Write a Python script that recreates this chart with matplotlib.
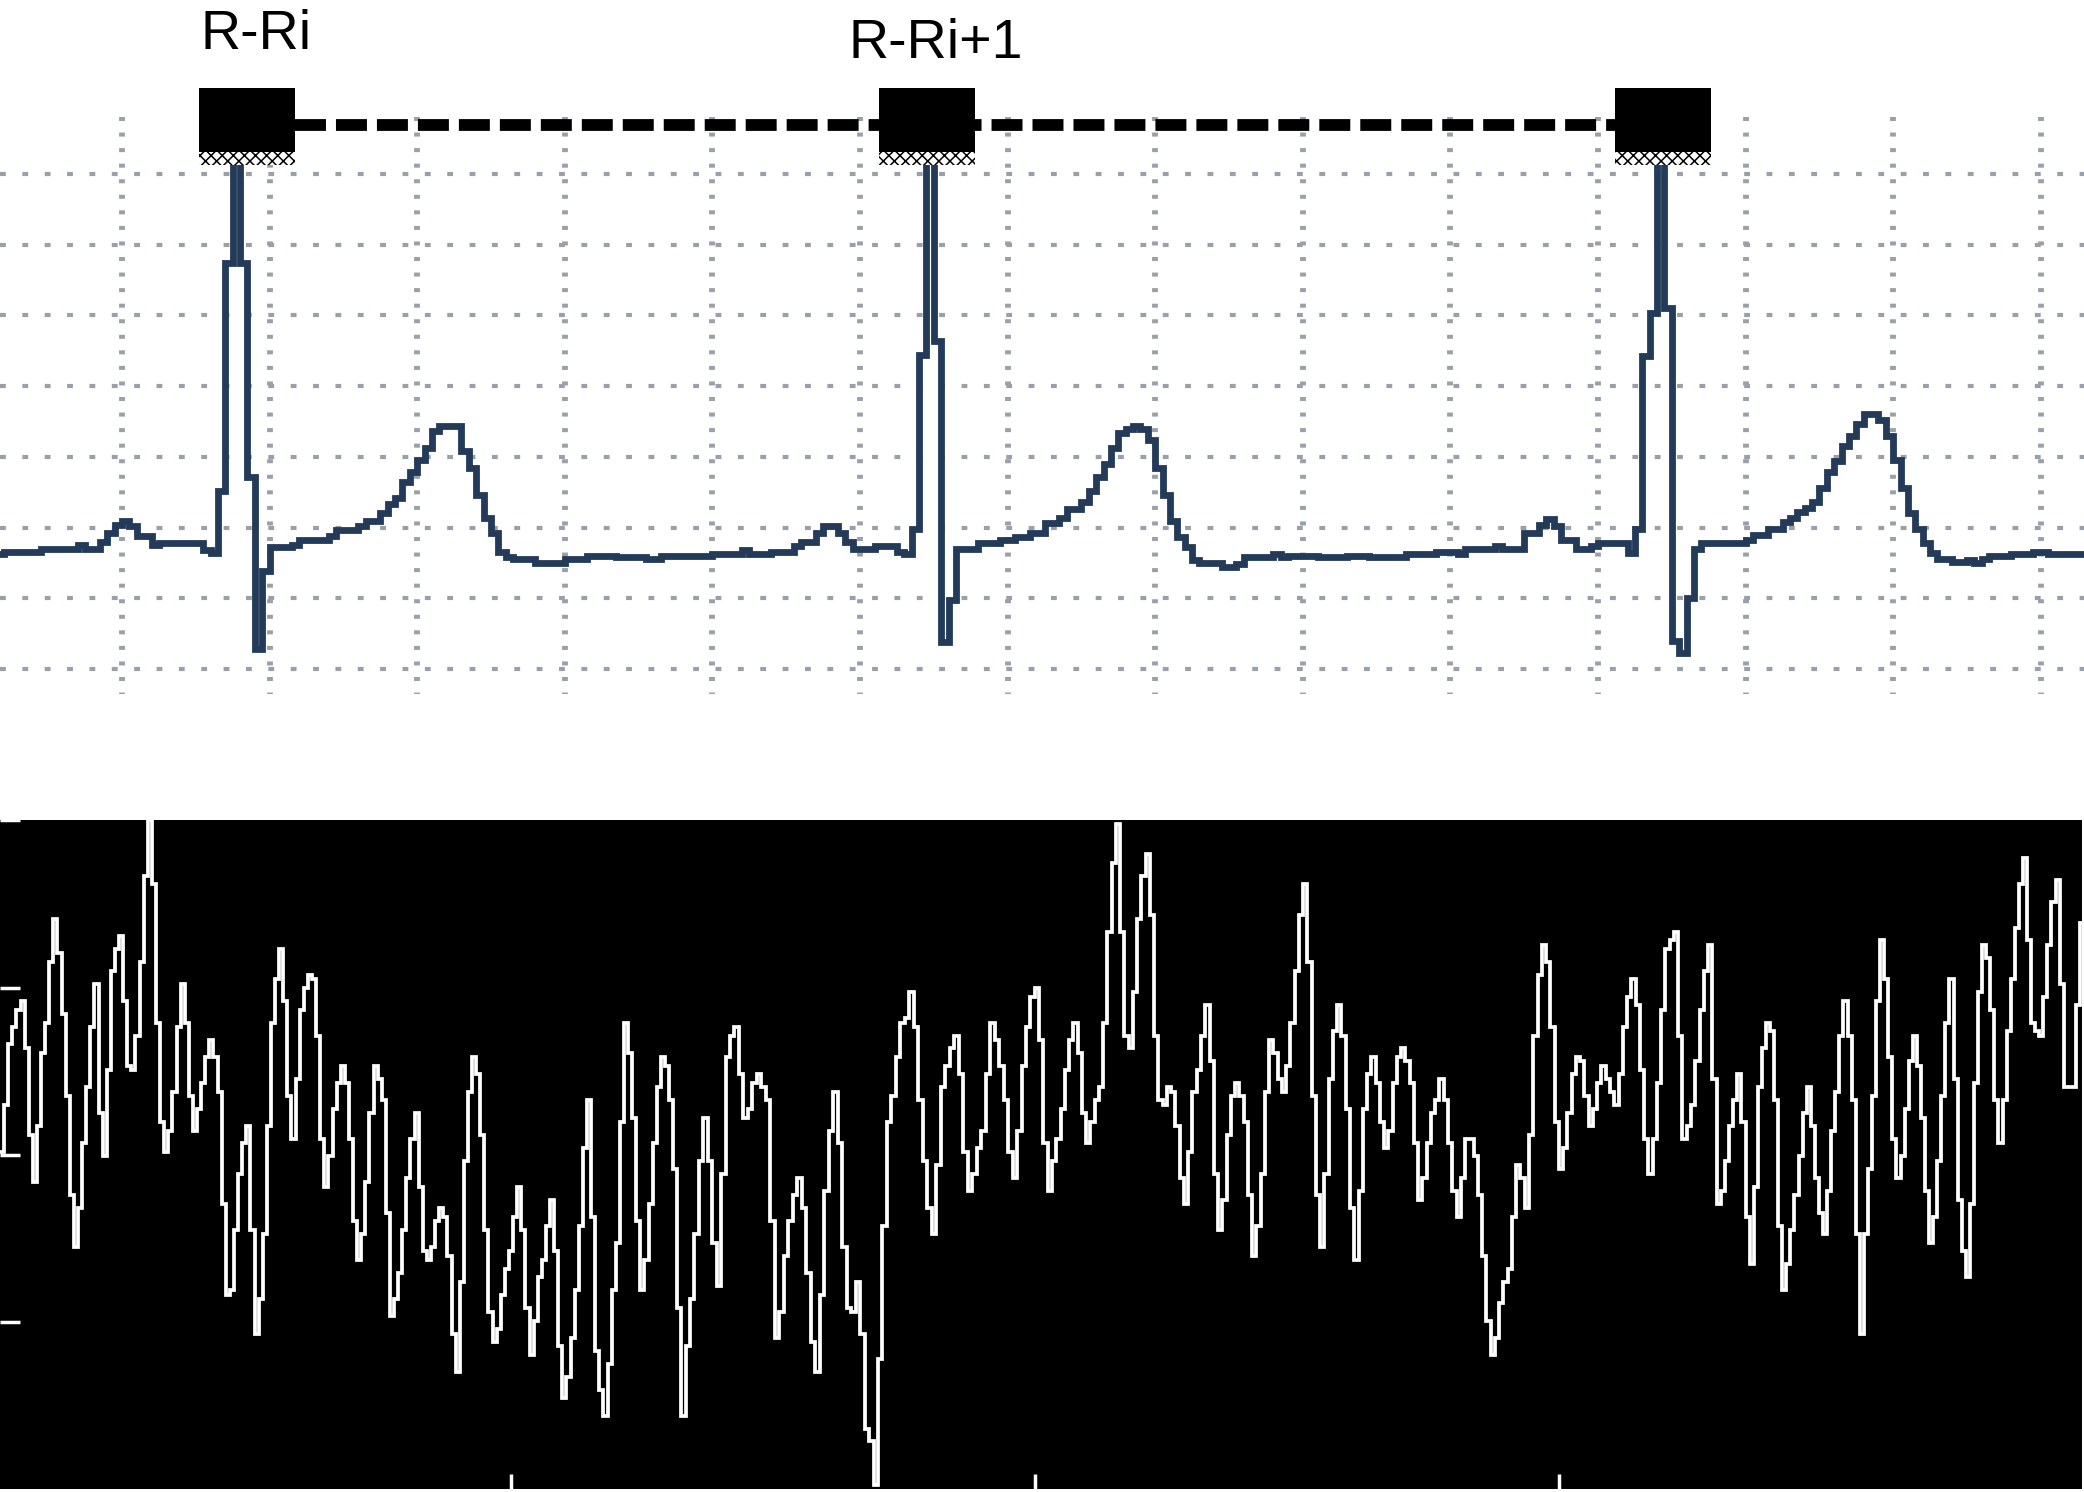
import numpy as np
import matplotlib
matplotlib.use("Agg")
import matplotlib.pyplot as plt
from matplotlib.patches import Rectangle

plt.rcParams['font.family'] = ['Liberation Sans', 'DejaVu Sans']
plt.rcParams['lines.scale_dashes'] = False
plt.rcParams['hatch.linewidth'] = 1.1

# ---------------- ECG (mV), sampled every 10 ms ----------------
ecg_t0 = 0.030
ecg_dt = 0.01
ecg_pre = [0.81,
           0.83, 0.83, 0.83, 0.83, 0.83,
           0.85, 0.85, 0.85, 0.85, 0.85,
           0.88, 0.85, 0.85,
           0.90, 0.96, 1.02, 1.05, 1.01, 0.94, 0.94, 0.88,
           0.89, 0.89, 0.89, 0.89, 0.89, 0.89,
           0.84, 0.82, 1.26, 2.87, 3.75]
ecg_beat1 = [2.87, 1.36, 0.14, 0.69,
             0.86, 0.86, 0.86, 0.88, 0.91, 0.91, 0.91, 0.91, 0.94,
             0.98, 0.98, 0.98, 1.01, 1.05, 1.05, 1.10, 1.17, 1.21, 1.32,
             1.39, 1.48, 1.56, 1.68, 1.72, 1.72, 1.72, 1.54, 1.42, 1.23,
             1.07, 0.96, 0.83, 0.79, 0.78, 0.78, 0.78, 0.75, 0.75, 0.75,
             0.75, 0.78, 0.78, 0.78, 0.80, 0.80, 0.80, 0.80, 0.79, 0.79,
             0.79, 0.79, 0.78, 0.78, 0.80, 0.80, 0.80, 0.80, 0.80, 0.80,
             0.80,
             0.81, 0.81, 0.81, 0.81, 0.84, 0.81, 0.81, 0.81, 0.83, 0.83,
             0.83, 0.87, 0.90, 0.90, 0.96, 1.01, 1.01, 0.96, 0.90, 0.85,
             0.85, 0.85, 0.87, 0.87, 0.87, 0.83, 0.81, 0.99, 2.22, 3.75]
ecg_beat2 = [2.32, 0.19, 0.49,
             0.85, 0.85, 0.85, 0.89, 0.89, 0.89, 0.91, 0.91, 0.93, 0.93,
             0.96, 0.96, 1.03, 1.03, 1.07, 1.13, 1.13, 1.18, 1.26, 1.36,
             1.45, 1.56, 1.67, 1.70, 1.72, 1.70, 1.62, 1.42, 1.23, 1.05,
             0.93, 0.86, 0.77, 0.75, 0.75, 0.75, 0.72, 0.72, 0.74, 0.79,
             0.79, 0.79, 0.79, 0.81, 0.79, 0.80, 0.80, 0.80, 0.80, 0.79,
             0.79, 0.79, 0.79, 0.80, 0.80, 0.80, 0.79, 0.79, 0.79,
             0.79, 0.79, 0.81, 0.81, 0.81, 0.81, 0.83, 0.83, 0.83, 0.81,
             0.85, 0.85, 0.85, 0.85, 0.87, 0.85, 0.85, 0.85, 0.96, 0.96,
             1.02, 1.06, 1.01, 0.91, 0.91, 0.85, 0.85, 0.87, 0.89, 0.89,
             0.89, 0.89, 0.82, 0.99, 2.21, 2.52, 3.75]
ecg_beat3 = [2.55, 0.20, 0.11, 0.50,
             0.85, 0.89, 0.89, 0.89, 0.89, 0.89, 0.89, 0.91, 0.95, 0.95,
             0.99, 0.99, 1.04, 1.07, 1.11, 1.14, 1.18, 1.28, 1.39, 1.47,
             1.58, 1.65, 1.73, 1.80, 1.80, 1.76, 1.65, 1.48, 1.28, 1.10,
             0.99, 0.89, 0.82, 0.78, 0.78, 0.76, 0.76, 0.77, 0.75, 0.78,
             0.80, 0.80, 0.80, 0.81, 0.81, 0.81, 0.83, 0.83, 0.81, 0.81,
             0.81, 0.81, 0.81]

# -------------- lower trace (arbitrary units), six stretches --------------
sig_bounds = [0.025, 0.683, 1.341, 2.0, 2.658, 3.317, 4.002]
sig_seg1 = [78, 89, 103, 107, 111, 113, 102, 82, 71, 84, 101, 108, 122, 132, 124, 110,
            91, 68, 56, 65, 80, 93, 107, 117, 87, 77, 97, 120, 125, 128, 113, 98, 97,
            105, 122, 142, 155, 140, 108, 85, 78, 83, 92, 107, 117, 108, 91, 83, 88, 94,
            100, 104, 100, 92, 66, 45, 46, 60, 73, 80, 84, 60, 36, 44, 59, 84, 108, 118,
            125, 113, 91, 81, 95, 111, 116, 119, 118, 105, 81, 70, 77, 88, 94, 98]
sig_seg2 = [94, 81, 62, 53, 59, 71, 87, 98, 95, 90, 64, 40, 44, 50, 60, 72, 81, 87, 70,
            55, 53, 56, 62, 65, 63, 54, 36, 27, 48, 76, 92, 100, 96, 82, 60, 41, 34, 37,
            45, 51, 55, 63, 70, 60, 42, 31, 39, 49, 53, 61, 67, 55, 33, 21, 26, 35, 46,
            61, 79, 90, 63, 32, 23, 17, 29, 46, 57, 85, 108, 101, 86, 62, 46, 53, 66, 80,
            93, 100, 98, 90, 74, 42, 17, 33]
sig_seg3 = [44, 59, 76, 86, 76, 57, 47, 73, 100, 105, 107, 96, 86, 88, 94, 96, 93, 90,
            62, 35, 41, 54, 62, 68, 72, 65, 50, 34, 27, 45, 69, 83, 92, 80, 56, 42, 41,
            48, 36, 14, 11, 1, 30, 61, 85, 91, 100, 108, 109, 115, 107, 90, 76, 65, 59,
            75, 93, 98, 102, 105, 96, 78, 69, 73, 79, 83, 96, 108, 104, 98, 90, 78, 72,
            83, 98, 107, 114]
sig_seg4 = [116, 104, 80, 69, 76, 81, 88, 97, 104, 108, 101, 87, 80, 85, 90, 93, 108,
            129, 145, 154, 129, 105, 102, 115, 132, 142, 147, 133, 105, 90, 89, 93, 92,
            84, 72, 66, 78, 92, 97, 105, 112, 99, 73, 60, 67, 82, 91, 94, 91, 85, 68, 54,
            61, 73, 92, 104, 101, 95, 92, 98, 108, 120, 133, 140, 122, 91, 68, 56, 73,
            95, 106, 112, 105, 88, 65, 53, 69, 88, 96, 100, 94]
sig_seg5 = [85, 79, 83, 94, 100, 102, 99, 94, 80, 67, 72, 80, 87, 90, 95, 90, 80, 69,
            63, 72, 81, 81, 77, 68, 54, 39, 31, 35, 43, 48, 51, 63, 75, 72, 65, 82, 105,
            119, 126, 122, 107, 85, 74, 79, 87, 96, 100, 99, 91, 84, 88, 94, 98, 95, 92,
            89, 96, 107, 114, 118, 112, 97, 81, 73, 81, 94, 111, 125, 127, 129, 105, 81,
            84, 89, 99, 111, 120, 126, 95, 66, 69]
sig_seg6 = [76, 84, 90, 96, 85, 63, 52, 70, 93, 102, 108, 106, 90, 61, 46, 52, 60, 68,
            77, 87, 93, 84, 72, 64, 59, 69, 83, 92, 105, 113, 105, 90, 59, 36, 59, 74,
            91, 113, 127, 118, 100, 81, 72, 77, 88, 99, 105, 98, 86, 69, 57, 63, 76, 91,
            108, 118, 95, 67, 55, 49, 66, 94, 115, 126, 123, 111, 90, 80, 90, 106, 118,
            130, 140, 146, 127, 108, 106, 105, 114, 126, 136, 141, 117, 93, 93, 93, 112,
            131]

labels = ['R-Ri', 'R-Ri+1']
box_shift = [0.015, -0.004, 0.003]   # marker offsets from the detected R peaks (s)

# ---------------- figure ----------------
W, H = 2084, 1492
fig = plt.figure(figsize=(W / 100, H / 100), dpi=100)
fig.patch.set_facecolor('white')

GRID = '#9aa0a9'
ECG_C = '#233a59'

# top panel
ax = fig.add_axes([0, 1 - 694 / H, 1, 694 / H])
ax.set_xlim(25.6 / 738, (W + 25.6) / 738)
ax.set_ylim(-0.177, 4.731)
ax.axis('off')

x0, x1 = ax.get_xlim()
for yv in np.arange(0, 3.51, 0.5):
    ax.plot([x0, x1], [yv, yv], color=GRID, lw=3.0,
            dashes=(4.2, 11.9), dash_capstyle='butt', zorder=1)
for xv in np.arange(0.2, 2.81, 0.2):
    ax.plot([xv, xv], [3.904, -0.177], color=GRID, lw=4.2,
            dashes=(2.9, 8.3), dash_capstyle='butt', zorder=1)

ecg = np.array(ecg_pre + ecg_beat1 + ecg_beat2 + ecg_beat3)
t = ecg_t0 + np.arange(len(ecg)) * ecg_dt
ax.plot(np.append(t, t[-1] + ecg_dt), np.append(ecg, ecg[-1]), drawstyle='steps-post',
        color=ECG_C, lw=4.9, solid_joinstyle='miter', zorder=2)

# R peaks from the data
r_idx = [i for i in range(1, len(ecg) - 1)
         if ecg[i] > 3 and ecg[i] >= ecg[i - 1] and ecg[i] >= ecg[i + 1]]
r_t = [t[i] + ecg_dt / 2 for i in r_idx]
b_c = [rt + sh for rt, sh in zip(r_t, box_shift)]

bw = 0.130
for bc in b_c:
    ax.add_patch(Rectangle((bc - bw / 2, 3.656), bw, 0.456, facecolor='black',
                           edgecolor='none', zorder=5, clip_on=False))
    ax.add_patch(Rectangle((bc - bw / 2, 3.565), bw, 0.091, facecolor='white',
                           edgecolor='black', lw=0, hatch='xxx', zorder=5,
                           clip_on=False))
ax.plot([b_c[0] + bw / 2, b_c[-1] - bw / 2], [3.847, 3.847], color='black', lw=8.5,
        dashes=(22.3, 7.2), dash_capstyle='butt', zorder=4)

ax.text(0.381, 4.385, labels[0], ha='center', va='baseline', fontsize=40,
        color='black', zorder=6)
ax.text(1.303, 4.321, labels[1], ha='center', va='baseline', fontsize=40,
        color='black', zorder=6)

# bottom panel
ax2 = fig.add_axes([0, 1 - 1489 / H, 2082 / W, (1489 - 820) / H])
ax2.set_facecolor('black')
for s in ax2.spines.values():
    s.set_visible(False)
ax2.set_xlim(0.025, 3.998)
ax2.set_ylim(0, 154.9)
ax2.set_xticks([1, 2, 3])
ax2.set_yticks([38.7, 77.4, 116.1, 154.8])
ax2.set_xticklabels([])
ax2.set_yticklabels([])
ax2.tick_params(axis='both', direction='in', color='white', width=2.5)
ax2.tick_params(axis='y', length=14.5)
ax2.tick_params(axis='x', length=11)

segs = [sig_seg1, sig_seg2, sig_seg3, sig_seg4, sig_seg5, sig_seg6]
tt, vv = [], []
for k, sgl in enumerate(segs):
    tt.append(np.linspace(sig_bounds[k], sig_bounds[k + 1], len(sgl), endpoint=False))
    vv.append(np.array(sgl, dtype=float))
tt = np.concatenate(tt)
vv = np.concatenate(vv)
tt = np.append(tt, sig_bounds[-1])
vv = np.append(vv, vv[-1])
ax2.plot(tt, vv, drawstyle='steps-post', color='white', lw=2.7,
         solid_joinstyle='miter')

fig.savefig('out.png', dpi=100, facecolor='white')
